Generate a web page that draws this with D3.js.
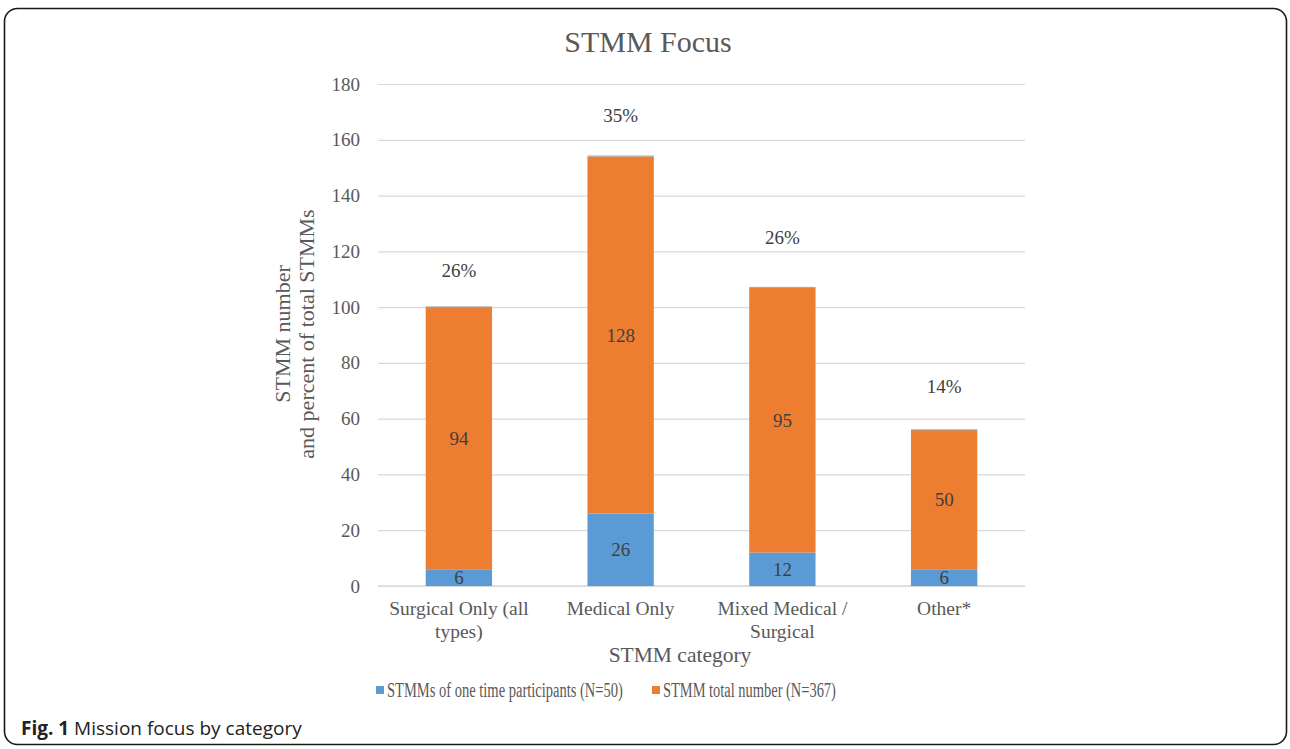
<!DOCTYPE html>
<html>
<head>
<meta charset="utf-8">
<script src="https://cdn.jsdelivr.net/npm/d3@7"></script>
<style>
  html, body { margin: 0; padding: 0; background: #fff; }
  svg { display: block; }
</style>
</head>
<body>
<svg id="chart" width="1290" height="749"></svg>
<script>
// Mission categories and counts
const categories = ["Surgical Only (all types)", "Medical Only", "Mixed Medical / Surgical", "Other*"];
const categoryLines = [["Surgical Only (all", "types)"], ["Medical Only"], ["Mixed Medical /", "Surgical"], ["Other*"]];
const oneTime = [6, 26, 12, 6];
const remainder = [94, 128, 95, 50];
const shareOfTotal = [0.26, 0.35, 0.26, 0.14];
const shareLabels = ["26%", "35%", "26%", "14%"];
const yTicks = [0, 20, 40, 60, 80, 100, 120, 140, 160, 180];
const seriesNames = ["STMMs of one time participants (N=50)", "STMM total number (N=367)"];

// Layout: how far each share label sits above its bar
const shareLabelLift = [36, 40, 50, 43];

const svg = d3.select("#chart");
const serif = "'Liberation Serif', 'Times New Roman', serif";
const textColor = "#595959";
const colors = ["#5b9bd5", "#ed7d31", "#a5a5a5"];

// Frame around the figure
svg.append("rect")
  .attr("x", 4.5).attr("y", 8.5)
  .attr("width", 1282).attr("height", 736)
  .attr("rx", 13).attr("ry", 13)
  .attr("fill", "none").attr("stroke", "#1a1a1a").attr("stroke-width", 1.6);

const plot = { left: 378, right: 1025, top: 84, bottom: 586 };

const rows = categories.map((c, i) => ({ cat: c, one: oneTime[i], rest: remainder[i], pct: shareOfTotal[i] }));
const stacked = d3.stack().keys(["one", "rest", "pct"])(rows);

const x = d3.scaleBand().domain(categories).range([plot.left, plot.right]).paddingInner(0.59).paddingOuter(0.295);
const y = d3.scaleLinear().domain([0, 180]).range([plot.bottom, plot.top]);

// Title
svg.append("text")
  .attr("x", 648).attr("y", 52)
  .attr("text-anchor", "middle")
  .attr("font-family", serif).attr("font-size", 30)
  .attr("fill", textColor)
  .text("STMM Focus");

// Gridlines and y tick labels
const yAxis = d3.axisLeft(y).tickValues(yTicks).tickSize(-(plot.right - plot.left)).tickPadding(18);
const gy = svg.append("g").attr("transform", `translate(${plot.left},0)`).call(yAxis);
gy.select(".domain").remove();
gy.selectAll(".tick line").attr("stroke", "#d9d9d9").attr("stroke-width", 1.2);
gy.selectAll(".tick text")
  .attr("font-family", serif).attr("font-size", 19).attr("fill", textColor);

// Baseline
svg.append("line")
  .attr("x1", plot.left).attr("x2", plot.right)
  .attr("y1", y(0)).attr("y2", y(0))
  .attr("stroke", "#d9d9d9").attr("stroke-width", 1.4);

// Stacked bars
const layers = svg.append("g").selectAll("g").data(stacked).join("g")
  .attr("fill", (d, i) => colors[i]);
layers.selectAll("rect").data(d => d).join("rect")
  .attr("x", d => x(d.data.cat))
  .attr("width", x.bandwidth())
  .attr("y", d => y(d[1]))
  .attr("height", d => Math.max(y(d[0]) - y(d[1]), 1));

// Segment value labels
[0, 1].forEach(li => {
  svg.append("g").selectAll("text").data(stacked[li]).join("text")
    .attr("x", d => x(d.data.cat) + x.bandwidth() / 2)
    .attr("y", d => (y(d[0]) + y(d[1])) / 2)
    .attr("dy", "0.35em")
    .attr("text-anchor", "middle")
    .attr("font-family", serif).attr("font-size", 19)
    .attr("fill", "#404040")
    .text(d => li === 0 ? d.data.one : d.data.rest);
});

// Share of total above each bar
svg.append("g").selectAll("text").data(stacked[2]).join("text")
  .attr("x", d => x(d.data.cat) + x.bandwidth() / 2)
  .attr("y", (d, i) => y(d[1]) - shareLabelLift[i])
  .attr("dy", "0.35em")
  .attr("text-anchor", "middle")
  .attr("font-family", serif).attr("font-size", 19)
  .attr("fill", "#404040")
  .text((d, i) => shareLabels[i]);

// Category labels
const catG = svg.append("g").selectAll("text").data(categories).join("text")
  .attr("x", d => x(d) + x.bandwidth() / 2)
  .attr("y", 615)
  .attr("text-anchor", "middle")
  .attr("font-family", serif).attr("font-size", 19.5)
  .attr("fill", textColor);
catG.each(function(d, i) {
  const t = d3.select(this);
  categoryLines[i].forEach((ln, j) => {
    t.append("tspan").attr("x", x(d) + x.bandwidth() / 2).attr("dy", j === 0 ? 0 : 23).text(ln);
  });
});

// Axis titles
svg.append("text")
  .attr("x", 680).attr("y", 662)
  .attr("text-anchor", "middle")
  .attr("font-family", serif).attr("font-size", 21.5)
  .attr("fill", textColor)
  .text("STMM category");

const yTitle = svg.append("text")
  .attr("transform", "translate(290,334) rotate(-90)")
  .attr("text-anchor", "middle")
  .attr("font-family", serif).attr("font-size", 22)
  .attr("fill", textColor);
yTitle.append("tspan").attr("x", 0).attr("dy", 0).text("STMM number");
yTitle.append("tspan").attr("x", 0).attr("dy", 24).text("and percent of total STMMs");

// Legend (text is squeezed horizontally to a condensed width)
const legendItems = [
  { x: 376, name: seriesNames[0], color: colors[0], len: 236 },
  { x: 652, name: seriesNames[1], color: colors[1], len: 173 }
];
const lg = svg.append("g").selectAll("g").data(legendItems).join("g")
  .attr("transform", d => `translate(${d.x},686)`);
lg.append("rect").attr("width", 8).attr("height", 8).attr("fill", d => d.color);
lg.append("text")
  .attr("y", 4).attr("dy", "0.35em")
  .attr("font-family", serif).attr("font-size", 20.5)
  .attr("fill", textColor)
  .text(d => d.name)
  .each(function(d) {
    const w = this.getComputedTextLength();
    d3.select(this).attr("transform", `translate(11,0) scale(${d.len / w},1)`);
  });

// Figure caption
const cap = svg.append("text")
  .attr("x", 21).attr("y", 735)
  .attr("font-family", "'Open Sans', 'Noto Sans', sans-serif").attr("font-size", 19)
  .attr("fill", "#222");
cap.append("tspan").attr("font-weight", "bold").text("Fig. 1");
cap.append("tspan").text(" Mission focus by category");
</script>
</body>
</html>
